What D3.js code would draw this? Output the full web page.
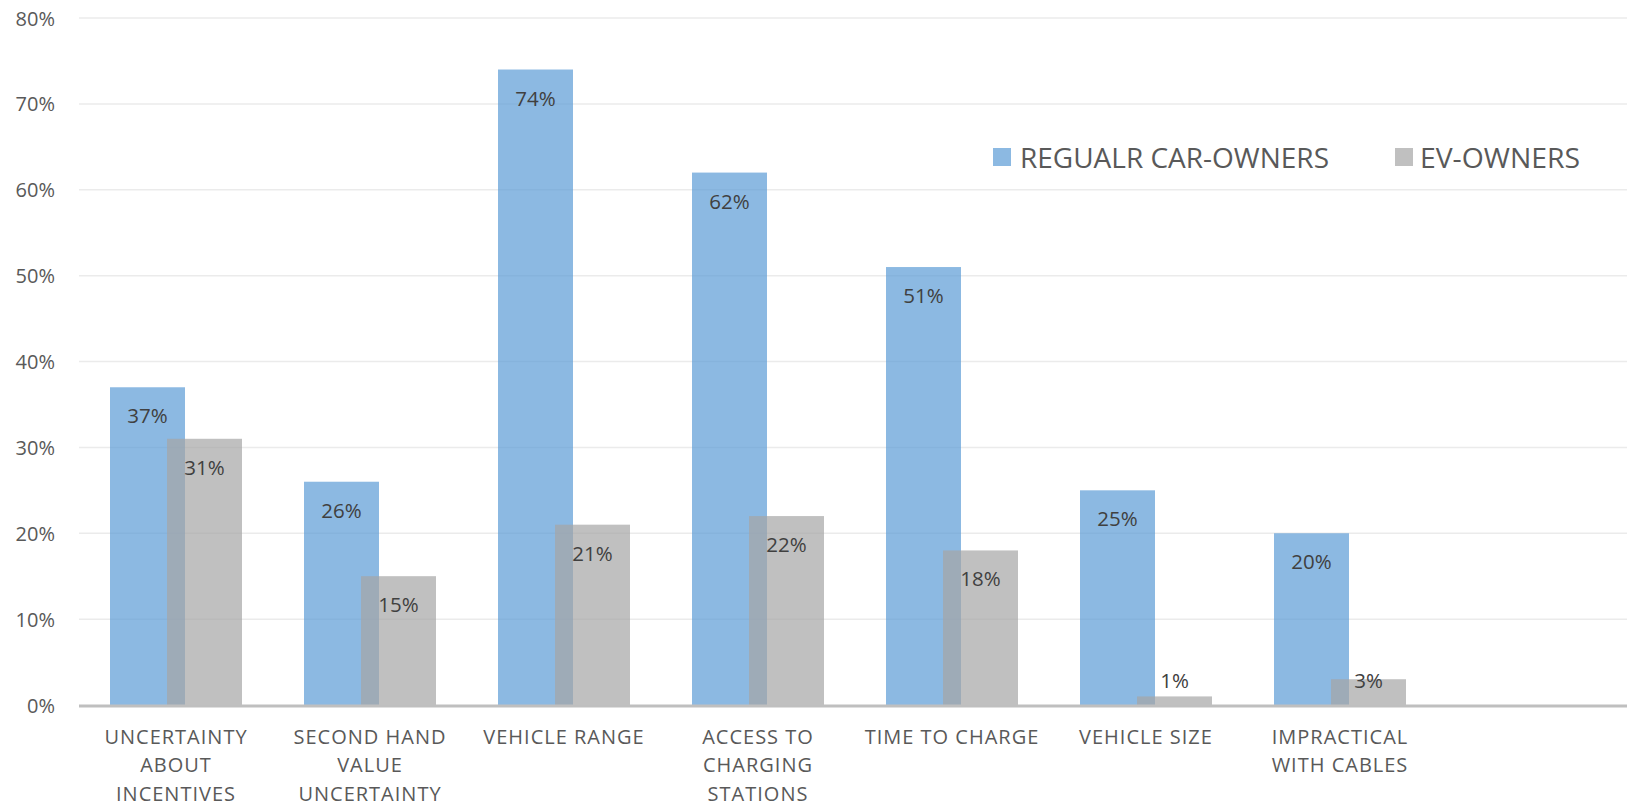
<!DOCTYPE html>
<html>
<head>
<meta charset="utf-8">
<script src="https://cdn.jsdelivr.net/npm/d3@7"></script>
<style>
  html, body { margin: 0; padding: 0; background: #fff; }
  svg { display: block; }
  text { font-family: "Open Sans", sans-serif; }
</style>
</head>
<body>
<svg id="chart" width="1627" height="805"></svg>
<script>
// ---- data ----
const categories = [
  "UNCERTAINTY\nABOUT\nINCENTIVES",
  "SECOND HAND\nVALUE\nUNCERTAINTY",
  "VEHICLE RANGE",
  "ACCESS TO\nCHARGING\nSTATIONS",
  "TIME TO CHARGE",
  "VEHICLE SIZE",
  "IMPRACTICAL\nWITH CABLES",
  ""
];
const seriesNames = ["REGUALR CAR-OWNERS", "EV-OWNERS"];
const regularOwners = [0.37, 0.26, 0.74, 0.62, 0.51, 0.25, 0.20];
const evOwners = [0.31, 0.15, 0.21, 0.22, 0.18, 0.01, 0.03];
const yTicks = [0, 0.1, 0.2, 0.3, 0.4, 0.5, 0.6, 0.7, 0.8];

// ---- layout ----
const svg = d3.select("#chart");
const left = 79, bandW = 194, y0 = 705, yTop = 18;
const x = d3.scaleBand().domain(categories.map((c, i) => i)).range([left, left + bandW * categories.length]).padding(0);
const y = d3.scaleLinear().domain([0, 0.8]).range([y0, yTop]);
const barW = 75;
const offset = d3.scaleOrdinal().domain(seriesNames).range([-66, -9]);
const fill = d3.scaleOrdinal().domain(seriesNames).range(["#5B9BD5", "#A5A5A5"]);
const fmt = d3.format(".0%");

// gridlines
svg.append("g").selectAll("line").data(yTicks.filter(t => t > 0)).join("line")
  .attr("x1", left).attr("x2", 1627)
  .attr("y1", d => y(d)).attr("y2", d => y(d))
  .attr("stroke", "#EBEBEB").attr("stroke-width", 1.5);

// y tick labels
svg.append("g").selectAll("text").data(yTicks).join("text")
  .attr("x", 55).attr("y", d => y(d))
  .attr("text-anchor", "end").attr("dominant-baseline", "central")
  .attr("font-size", 20).attr("fill", "#595959")
  .text(d => fmt(d));

// bars
const series = [
  { name: seriesNames[0], values: regularOwners },
  { name: seriesNames[1], values: evOwners }
];
const barsG = svg.append("g");
series.forEach(s => {
  barsG.append("g").selectAll("rect").data(s.values).join("rect")
    .attr("x", (d, i) => x(i) + x.bandwidth() / 2 + offset(s.name))
    .attr("y", d => y(d))
    .attr("width", barW)
    .attr("height", d => y0 - y(d))
    .attr("fill", fill(s.name))
    .attr("fill-opacity", 0.7);
});

// axis line
svg.append("line").attr("x1", left).attr("x2", 1627).attr("y1", y0 + 1).attr("y2", y0 + 1)
  .attr("stroke", "#BFBFBF").attr("stroke-width", 3);

// data labels
series.forEach(s => {
  svg.append("g").selectAll("text").data(s.values).join("text")
    .attr("x", (d, i) => x(i) + x.bandwidth() / 2 + offset(s.name) + barW / 2)
    .attr("y", d => Math.min(y(d) + 28, y0 - 25))
    .attr("text-anchor", "middle").attr("dominant-baseline", "central")
    .attr("font-size", 20.5).attr("fill", "#404040")
    .text(d => fmt(d));
});

// category labels
const catG = svg.append("g");
categories.forEach((c, i) => {
  if (!c) return;
  const t = catG.append("text")
    .attr("text-anchor", "middle")
    .attr("font-size", 20).attr("fill", "#595959")
    .attr("letter-spacing", 1);
  c.split("\n").forEach((line, j) => {
    t.append("tspan")
      .attr("x", x(i) + x.bandwidth() / 2)
      .attr("y", 736 + j * 28.5)
      .attr("dominant-baseline", "central")
      .text(line);
  });
});

// legend
const legend = [
  { name: seriesNames[0], sx: 993, tx: 1020, tw: 309 },
  { name: seriesNames[1], sx: 1395, tx: 1420, tw: 160 }
];
legend.forEach(l => {
  svg.append("rect").attr("x", l.sx).attr("y", 148).attr("width", 18).attr("height", 18)
    .attr("fill", fill(l.name)).attr("fill-opacity", 0.7);
  svg.append("text").attr("x", l.tx).attr("y", 157)
    .attr("dominant-baseline", "central")
    .attr("font-size", 28).attr("fill", "#595959")
    .attr("textLength", l.tw).attr("lengthAdjust", "spacingAndGlyphs")
    .text(l.name);
});
</script>
</body>
</html>
